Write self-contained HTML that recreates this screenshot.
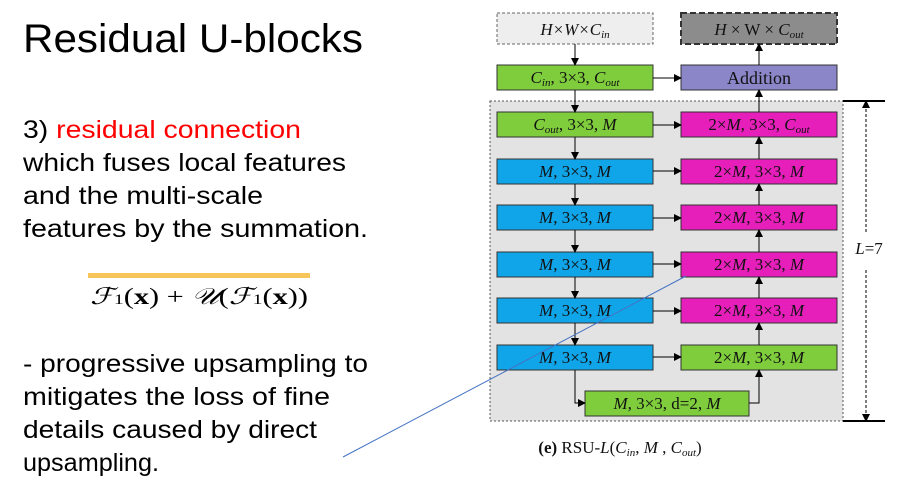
<!DOCTYPE html>
<html><head><meta charset="utf-8"><style>
body{margin:0;background:#fff;width:903px;height:485px;overflow:hidden}
svg{display:block}
.t{font-family:"Liberation Sans",sans-serif;fill:#000}
.s{font-family:"Liberation Serif",serif;font-size:17px;fill:#111}
</style></head><body>
<svg width="903" height="485" viewBox="0 0 903 485" xmlns="http://www.w3.org/2000/svg">
<defs><marker id="a" markerWidth="8" markerHeight="8" refX="7" refY="4" orient="auto" markerUnits="userSpaceOnUse"><path d="M0,0 L8,4 L0,8z" fill="#000"/></marker></defs>
<text class="t" x="23" y="52" font-size="40" textLength="340" lengthAdjust="spacingAndGlyphs">Residual U-blocks</text>
<g class="t" font-size="25">
<text x="23" y="138" textLength="278" lengthAdjust="spacingAndGlyphs">3) <tspan fill="#f00">residual connection</tspan></text>
<text x="23" y="171" textLength="323" lengthAdjust="spacingAndGlyphs">which fuses local features</text>
<text x="23" y="204" textLength="240" lengthAdjust="spacingAndGlyphs">and the multi-scale</text>
<text x="23" y="237" textLength="345" lengthAdjust="spacingAndGlyphs">features by the summation.</text>
<text x="23" y="372" textLength="345" lengthAdjust="spacingAndGlyphs">- progressive upsampling to</text>
<text x="23" y="405" textLength="307" lengthAdjust="spacingAndGlyphs">mitigates the loss of fine</text>
<text x="23" y="438" textLength="294" lengthAdjust="spacingAndGlyphs">details caused by direct</text>
<text x="23" y="471" textLength="136" lengthAdjust="spacingAndGlyphs">upsampling.</text>
</g>
<rect x="88" y="273" width="222" height="5" fill="#f7c55a"/>
<text x="90" y="304" font-family="Liberation Serif,serif" font-size="23" font-style="italic" textLength="218" lengthAdjust="spacingAndGlyphs">ℱ<tspan font-style="normal" font-size="15">1</tspan><tspan font-style="normal">(<tspan font-weight="bold">x</tspan>) + </tspan>𝒰<tspan font-style="normal">(</tspan>ℱ<tspan font-style="normal" font-size="15">1</tspan><tspan font-style="normal">(<tspan font-weight="bold">x</tspan>))</tspan></text>

<rect x="490" y="101" width="353" height="320" fill="#e3e3e3" stroke="#555" stroke-dasharray="2,2"/>
<rect x="497" y="13" width="156" height="31" fill="#eee" stroke="#666" stroke-dasharray="3,2"/>
<text class="s" x="575" y="35" text-anchor="middle" font-style="italic">H×W×C<tspan font-size="11" dy="3">in</tspan></text>
<rect x="681" y="13" width="156" height="31" fill="#8c8c8c" stroke="#333" stroke-width="2" stroke-dasharray="6,3"/>
<text class="s" x="759" y="35" text-anchor="middle"><tspan font-style="italic">H</tspan> × W × <tspan font-style="italic">C<tspan font-size="11" dy="3">out</tspan></tspan></text>

<g stroke="#333" stroke-width="1">
<rect x="497" y="65" width="156" height="25" fill="#7fcc3c"/>
<rect x="681" y="65" width="156" height="25" fill="#8a86c8"/>
<rect x="497" y="112" width="156" height="25" fill="#7fcc3c"/>
<rect x="681" y="112" width="156" height="25" fill="#e61fbb"/>
<rect x="497" y="159" width="156" height="25" fill="#10a4e8"/>
<rect x="681" y="159" width="156" height="25" fill="#e61fbb"/>
<rect x="497" y="205" width="156" height="25" fill="#10a4e8"/>
<rect x="681" y="205" width="156" height="25" fill="#e61fbb"/>
<rect x="497" y="252" width="156" height="25" fill="#10a4e8"/>
<rect x="681" y="252" width="156" height="25" fill="#e61fbb"/>
<rect x="497" y="298" width="156" height="25" fill="#10a4e8"/>
<rect x="681" y="298" width="156" height="25" fill="#e61fbb"/>
<rect x="497" y="345" width="156" height="25" fill="#10a4e8"/>
<rect x="681" y="345" width="156" height="25" fill="#7fcc3c"/>
<rect x="585" y="391" width="164" height="25" fill="#7fcc3c"/>
</g>
<g class="s">
<text x="575" y="83" text-anchor="middle"><tspan font-style="italic">C<tspan font-size="11" dy="3">in</tspan></tspan><tspan dy="-3">, 3×3, </tspan><tspan font-style="italic">C<tspan font-size="11" dy="3">out</tspan></tspan></text>
<text x="759" y="84" text-anchor="middle" font-size="18">Addition</text>
<text x="575" y="130" text-anchor="middle"><tspan font-style="italic">C<tspan font-size="11" dy="3">out</tspan></tspan><tspan dy="-3">, 3×3, </tspan><tspan font-style="italic">M</tspan></text>
<text x="759" y="130" text-anchor="middle">2×<tspan font-style="italic">M</tspan>, 3×3, <tspan font-style="italic">C<tspan font-size="11" dy="3">out</tspan></tspan></text>
<text x="575" y="177" text-anchor="middle"><tspan font-style="italic">M</tspan>, 3×3, <tspan font-style="italic">M</tspan></text>
<text x="759" y="177" text-anchor="middle">2×<tspan font-style="italic">M</tspan>, 3×3, <tspan font-style="italic">M</tspan></text>
<text x="575" y="223" text-anchor="middle"><tspan font-style="italic">M</tspan>, 3×3, <tspan font-style="italic">M</tspan></text>
<text x="759" y="223" text-anchor="middle">2×<tspan font-style="italic">M</tspan>, 3×3, <tspan font-style="italic">M</tspan></text>
<text x="575" y="270" text-anchor="middle"><tspan font-style="italic">M</tspan>, 3×3, <tspan font-style="italic">M</tspan></text>
<text x="759" y="270" text-anchor="middle">2×<tspan font-style="italic">M</tspan>, 3×3, <tspan font-style="italic">M</tspan></text>
<text x="575" y="316" text-anchor="middle"><tspan font-style="italic">M</tspan>, 3×3, <tspan font-style="italic">M</tspan></text>
<text x="759" y="316" text-anchor="middle">2×<tspan font-style="italic">M</tspan>, 3×3, <tspan font-style="italic">M</tspan></text>
<text x="575" y="363" text-anchor="middle"><tspan font-style="italic">M</tspan>, 3×3, <tspan font-style="italic">M</tspan></text>
<text x="759" y="363" text-anchor="middle">2×<tspan font-style="italic">M</tspan>, 3×3, <tspan font-style="italic">M</tspan></text>
<text x="667" y="409" text-anchor="middle"><tspan font-style="italic">M</tspan>, 3×3, d=2, <tspan font-style="italic">M</tspan></text>
<text x="869" y="254" text-anchor="middle" font-style="italic">L<tspan font-style="normal">=7</tspan></text>
<text x="620" y="453" text-anchor="middle" font-size="17"><tspan font-weight="bold">(e)</tspan> RSU-<tspan font-style="italic">L</tspan>(<tspan font-style="italic">C<tspan font-size="11" dy="3">in</tspan></tspan><tspan dy="-3">, </tspan><tspan font-style="italic">M</tspan> , <tspan font-style="italic">C<tspan font-size="11" dy="3">out</tspan></tspan><tspan dy="-3">)</tspan></text>
</g>
<g stroke="#000" stroke-width="1" marker-end="url(#a)" fill="none">
<line x1="575" y1="44" x2="575" y2="65"/>
<line x1="575" y1="90" x2="575" y2="112"/>
<line x1="575" y1="137" x2="575" y2="159"/>
<line x1="575" y1="184" x2="575" y2="205"/>
<line x1="575" y1="230" x2="575" y2="252"/>
<line x1="575" y1="277" x2="575" y2="298"/>
<line x1="575" y1="323" x2="575" y2="345"/>
<polyline points="575,370 575,403 585,403"/>
<line x1="653" y1="78" x2="681" y2="78"/>
<line x1="653" y1="125" x2="681" y2="125"/>
<line x1="653" y1="171" x2="681" y2="171"/>
<line x1="653" y1="218" x2="681" y2="218"/>
<line x1="653" y1="264" x2="681" y2="264"/>
<line x1="653" y1="311" x2="681" y2="311"/>
<line x1="653" y1="357" x2="681" y2="357"/>
<line x1="759" y1="65" x2="759" y2="44"/>
<line x1="759" y1="112" x2="759" y2="90"/>
<line x1="759" y1="159" x2="759" y2="137"/>
<line x1="759" y1="205" x2="759" y2="184"/>
<line x1="759" y1="252" x2="759" y2="230"/>
<line x1="759" y1="298" x2="759" y2="277"/>
<line x1="759" y1="345" x2="759" y2="323"/>
<polyline points="749,403 759,403 759,370"/>
<line x1="866" y1="232" x2="866" y2="101" stroke-dasharray="3,2"/>
<line x1="866" y1="270" x2="866" y2="421" stroke-dasharray="3,2"/>
</g>
<line x1="843" y1="101" x2="885" y2="101" stroke="#000" stroke-width="2"/>
<line x1="843" y1="421" x2="885" y2="421" stroke="#000" stroke-width="2"/>
<line x1="343" y1="457" x2="686" y2="276" stroke="#4472c4" stroke-width="1"/>
</svg>
</body></html>
